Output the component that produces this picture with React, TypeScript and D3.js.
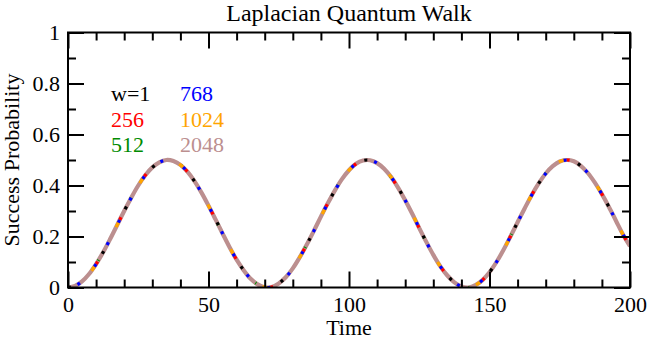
import React, { useRef, useEffect } from 'react';
import * as d3 from 'd3';

const times = [
  0, 2.5, 5, 7.5, 10, 12.5, 15, 17.5, 20, 22.5, 25, 27.5, 30, 32.5, 35, 37.5, 40, 42.5, 45, 47.5,
  50, 52.5, 55, 57.5, 60, 62.5, 65, 67.5, 70, 72.5, 75, 77.5, 80, 82.5, 85, 87.5, 90, 92.5, 95, 97.5,
  100, 102.5, 105, 107.5, 110, 112.5, 115, 117.5, 120, 122.5, 125, 127.5, 130, 132.5, 135, 137.5, 140, 142.5, 145, 147.5,
  150, 152.5, 155, 157.5, 160, 162.5, 165, 167.5, 170, 172.5, 175, 177.5, 180, 182.5, 185, 187.5, 190, 192.5, 195, 197.5, 200,
];

const prob = [
  0, 0.006, 0.024, 0.053, 0.092, 0.138, 0.19, 0.245, 0.3, 0.352, 0.4, 0.44, 0.471, 0.491, 0.5, 0.496, 0.481, 0.454, 0.417, 0.372,
  0.321, 0.267, 0.212, 0.158, 0.109, 0.068, 0.034, 0.012, 0.001, 0.002, 0.016, 0.04, 0.075, 0.119, 0.169, 0.222, 0.278, 0.331, 0.381, 0.425,
  0.46, 0.485, 0.498, 0.499, 0.488, 0.466, 0.433, 0.391, 0.342, 0.289, 0.233, 0.179, 0.128, 0.083, 0.047, 0.02, 0.004, 0.0, 0.009, 0.029,
  0.06, 0.1, 0.148, 0.201, 0.256, 0.31, 0.362, 0.408, 0.447, 0.476, 0.494, 0.5, 0.495, 0.477, 0.449, 0.411, 0.366, 0.316, 0.262, 0.208, 0.162,
];

const seriesNames = ['w=1', '256', '512', '768', '1024', '2048'];
const seriesColors = ['#000000', '#ff0000', '#008b00', '#0000ff', '#ffa500', '#bc8f8f'];
const seriesDash = ['3,47', '3,47', '1,69', '3,22', '6,44', null];

const xMajor = [0, 50, 100, 150, 200];
const xMinor = [10, 20, 30, 40, 60, 70, 80, 90, 110, 120, 130, 140, 160, 170, 180, 190];
const yMajor = [0, 0.2, 0.4, 0.6, 0.8, 1];
const yMinor = [0.1, 0.3, 0.5, 0.7, 0.9];

const FONT = '"Liberation Serif", "Times New Roman", serif';

export default function App() {
  const ref = useRef<SVGSVGElement | null>(null);

  useEffect(() => {
    const W = 650, H = 339;
    const margin = { top: 32.5, right: 20, bottom: 51.5, left: 68 };
    const width = W - margin.left - margin.right;
    const height = H - margin.top - margin.bottom;

    const svg = d3.select(ref.current);
    svg.selectAll('*').remove();

    const x = d3.scaleLinear().domain([0, 200]).range([0, width]);
    const y = d3.scaleLinear().domain([0, 1]).range([height, 0]);

    const g = svg.append('g').attr('transform', `translate(${margin.left},${margin.top})`);

    g.append('clipPath').attr('id', 'plotclip')
      .append('rect').attr('width', width).attr('height', height);

    const pts = times.map((t, i) => ({ t, p: prob[i] }));
    const line = d3.line<{ t: number; p: number }>()
      .x(d => x(d.t))
      .y(d => y(d.p))
      .curve(d3.curveCatmullRom);

    const lines = g.append('g').attr('clip-path', 'url(#plotclip)');
    // brown drawn underneath as solid, dashed ones on top
    const order = [5, 2, 4, 0, 1, 3];
    const offsets = [0, 12, 28, 40, 20, 0];
    order.forEach((i) => {
      lines.append('path')
        .datum(pts)
        .attr('d', line)
        .attr('fill', 'none')
        .attr('stroke', seriesColors[i])
        .attr('stroke-width', i === 5 ? 4.2 : 3.2)
        .attr('stroke-dasharray', seriesDash[i])
        .attr('stroke-dashoffset', offsets[i]);
    });

    const styleAxis = (sel: any) => {
      sel.select('.domain').remove();
      sel.selectAll('line').attr('stroke', '#000').attr('stroke-width', 2);
      sel.selectAll('text').style('font-family', FONT).style('font-size', '22px').attr('fill', '#000');
    };

    // bottom
    g.append('g').attr('transform', `translate(0,${height})`)
      .call(d3.axisBottom(x).tickValues(xMajor).tickSize(-16).tickPadding(9).tickFormat(d3.format('d')))
      .call(styleAxis);
    g.append('g').attr('transform', `translate(0,${height})`)
      .call(d3.axisBottom(x).tickValues(xMinor).tickSize(-8).tickFormat(() => ''))
      .call(styleAxis);
    // top
    g.append('g')
      .call(d3.axisTop(x).tickValues(xMajor).tickSize(-16).tickFormat(() => ''))
      .call(styleAxis);
    g.append('g')
      .call(d3.axisTop(x).tickValues(xMinor).tickSize(-8).tickFormat(() => ''))
      .call(styleAxis);
    // left
    g.append('g')
      .call(d3.axisLeft(y).tickValues(yMajor).tickSize(-16).tickPadding(8)
        .tickFormat(d => (+d === 0 || +d === 1 ? d3.format('d')(+d) : d3.format('.1f')(+d))))
      .call(styleAxis);
    g.append('g')
      .call(d3.axisLeft(y).tickValues(yMinor).tickSize(-8).tickFormat(() => ''))
      .call(styleAxis);
    // right
    g.append('g').attr('transform', `translate(${width},0)`)
      .call(d3.axisRight(y).tickValues(yMajor).tickSize(-16).tickFormat(() => ''))
      .call(styleAxis);
    g.append('g').attr('transform', `translate(${width},0)`)
      .call(d3.axisRight(y).tickValues(yMinor).tickSize(-8).tickFormat(() => ''))
      .call(styleAxis);

    g.append('rect')
      .attr('width', width).attr('height', height)
      .attr('fill', 'none').attr('stroke', '#000').attr('stroke-width', 2);

    // title + axis labels
    svg.append('text')
      .attr('x', margin.left + width / 2).attr('y', 21)
      .attr('text-anchor', 'middle')
      .style('font-family', FONT).style('font-size', '24px')
      .text('Laplacian Quantum Walk');

    svg.append('text')
      .attr('x', margin.left + width / 2).attr('y', 335)
      .attr('text-anchor', 'middle')
      .style('font-family', FONT).style('font-size', '22px')
      .text('Time');

    svg.append('text')
      .attr('transform', `translate(19,${margin.top + height / 2}) rotate(-90)`)
      .attr('text-anchor', 'middle')
      .style('font-family', FONT).style('font-size', '22px')
      .text('Success Probability');

    // legend, two columns of three
    const legend = svg.append('g');
    seriesNames.forEach((name, i) => {
      legend.append('text')
        .attr('x', i < 3 ? 111 : 180)
        .attr('y', 101 + (i % 3) * 25.5)
        .attr('fill', seriesColors[i])
        .style('font-family', FONT).style('font-size', '22px')
        .text(name);
    });
  }, []);

  return (
    <svg ref={ref} width={650} height={339}
      style={{ position: 'absolute', left: 0, top: 0, background: '#fff' }} />
  );
}
